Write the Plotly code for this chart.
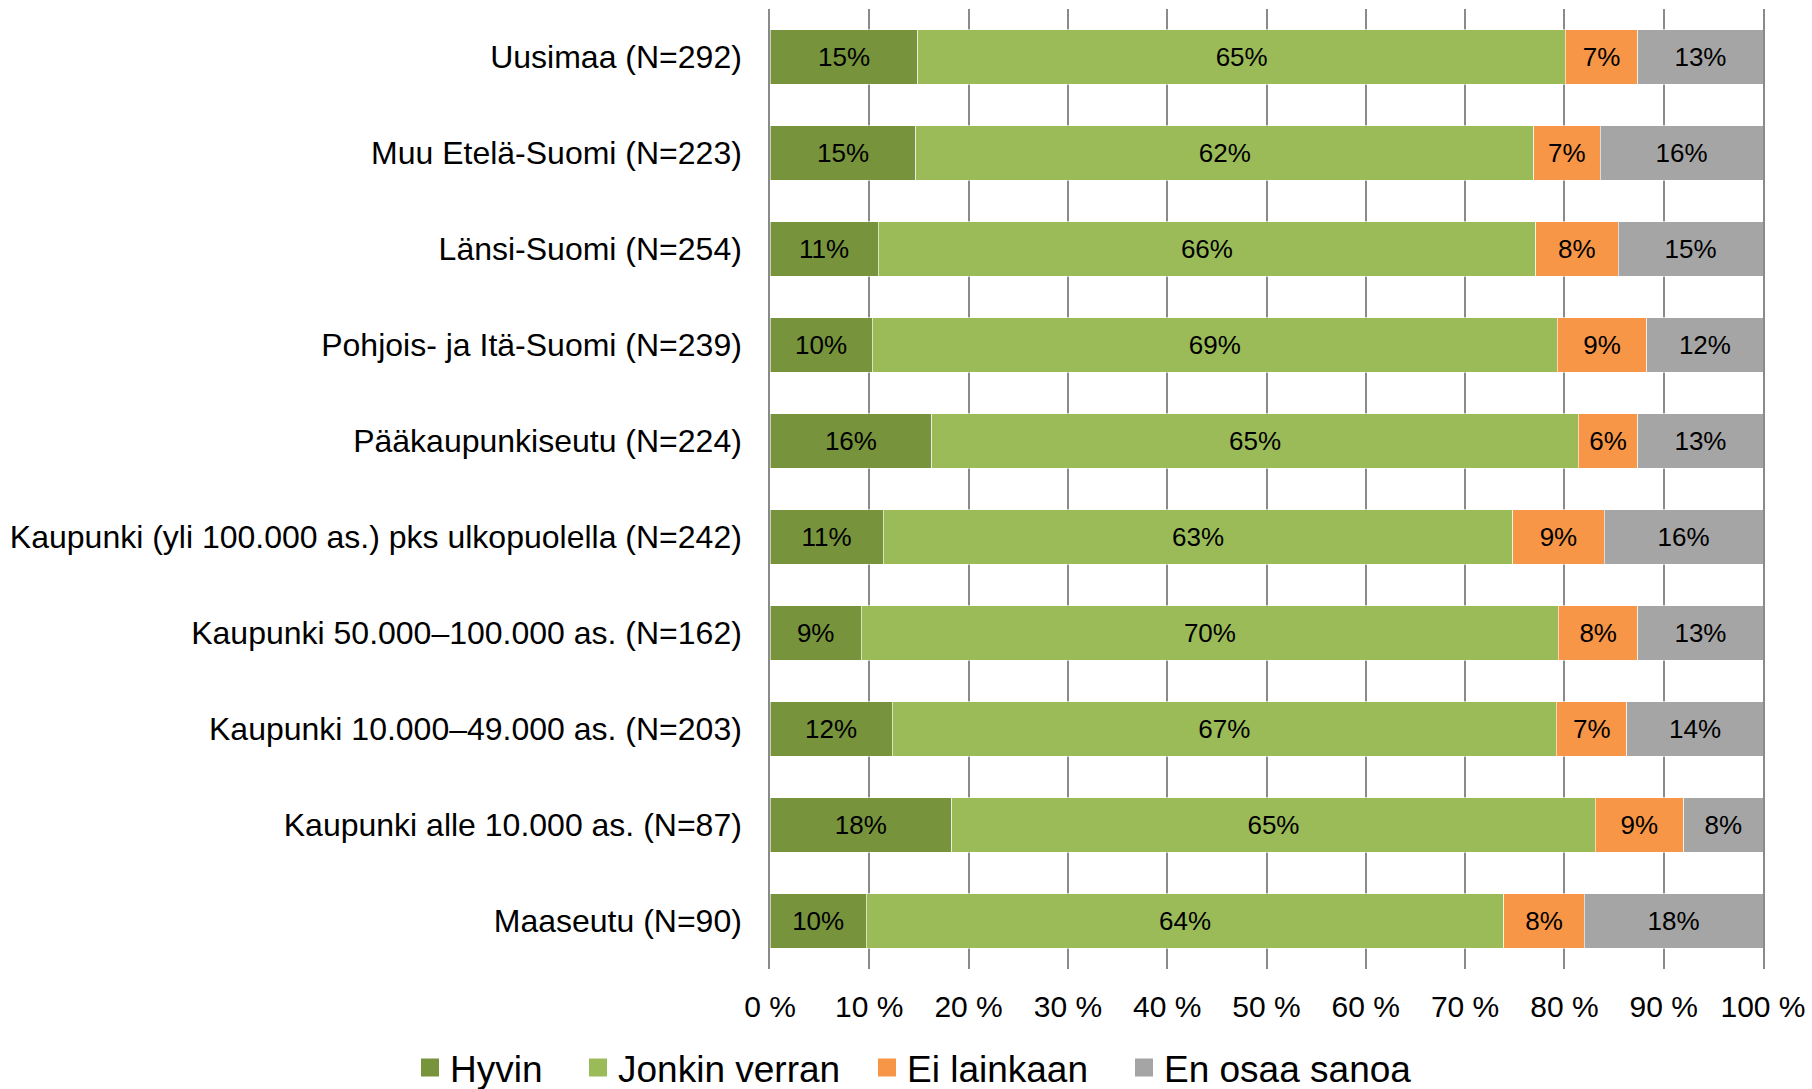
import plotly.graph_objects as go

categories = [
    "Uusimaa (N=292)",
    "Muu Etelä-Suomi (N=223)",
    "Länsi-Suomi (N=254)",
    "Pohjois- ja Itä-Suomi (N=239)",
    "Pääkaupunkiseutu (N=224)",
    "Kaupunki (yli 100.000 as.) pks ulkopuolella (N=242)",
    "Kaupunki 50.000–100.000 as. (N=162)",
    "Kaupunki 10.000–49.000 as. (N=203)",
    "Kaupunki alle 10.000 as. (N=87)",
    "Maaseutu (N=90)",
]

hyvin = [14.9, 14.7, 10.9, 10.3, 16.3, 11.4, 9.2, 12.3, 18.3, 9.7]
jonkin_verran = [65.2, 62.2, 66.2, 69.0, 65.1, 63.4, 70.2, 66.9, 64.8, 64.2]
ei_lainkaan = [7.3, 6.7, 8.3, 9.0, 6.0, 9.2, 8.0, 7.1, 8.9, 8.1]
en_osaa_sanoa = [12.6, 16.4, 14.6, 11.7, 12.6, 16.0, 12.6, 13.7, 8.0, 18.0]

series_names = ["Hyvin", "Jonkin verran", "Ei lainkaan", "En osaa sanoa"]
series_values = [hyvin, jonkin_verran, ei_lainkaan, en_osaa_sanoa]
colors = ["#77933C", "#9BBB59", "#F79646", "#A5A5A5"]

tick_vals = [0, 10, 20, 30, 40, 50, 60, 70, 80, 90, 100]
tick_text = ["0 %", "10 %", "20 %", "30 %", "40 %", "50 %", "60 %", "70 %", "80 %", "90 %", "100 %"]

FONT = "Arial, Liberation Sans, sans-serif"
W, H = 1812, 1089

fig = go.Figure()
for name, vals, col in zip(series_names, series_values, colors):
    fig.add_trace(go.Bar(
        name=name,
        y=categories,
        x=vals,
        orientation="h",
        marker=dict(color=col, line=dict(color="rgba(255,255,255,0.6)", width=1)),
        text=[f"{round(v):d}%" for v in vals],
        textposition="inside",
        insidetextanchor="middle",
        textangle=0,
        insidetextfont=dict(family=FONT, size=26, color="black"),
        hoverinfo="skip",
        showlegend=False,
    ))

# legend entries (one legend per entry to reproduce the spacing)
legend_ids = ["legend", "legend2", "legend3", "legend4"]
legend_left_px = [410, 578, 867, 1124]
for name, col, lid in zip(series_names, colors, legend_ids):
    fig.add_trace(go.Scatter(
        name=name,
        x=[None],
        y=[None],
        mode="markers",
        marker=dict(symbol="square", size=18, color=col, line=dict(color=col, width=2)),
        showlegend=True,
        hoverinfo="skip",
        legend=lid,
    ))

legend_layout = {}
for lid, lx in zip(legend_ids, legend_left_px):
    legend_layout[lid] = dict(
        orientation="h",
        xref="container",
        yref="container",
        x=lx / W,
        xanchor="left",
        y=1 - 1068 / H,
        yanchor="middle",
        font=dict(family=FONT, size=37, color="black"),
        itemwidth=30,
        bgcolor="rgba(0,0,0,0)",
        borderwidth=0,
    )

fig.update_layout(
    barmode="stack",
    bargap=0.43,
    width=W,
    height=H,
    margin=dict(l=770, r=49, t=9, b=120, autoexpand=False),
    paper_bgcolor="white",
    plot_bgcolor="white",
    font=dict(family=FONT, color="black"),
    xaxis=dict(
        range=[0, 100],
        tickvals=tick_vals,
        ticktext=tick_text,
        showgrid=True,
        gridcolor="#8A8A8A",
        gridwidth=1.5,
        zeroline=False,
        showline=False,
        ticks="",
        ticklabelstandoff=17,
        tickfont=dict(family=FONT, size=30, color="black"),
        fixedrange=True,
        automargin=False,
    ),
    yaxis=dict(
        autorange="reversed",
        showgrid=False,
        showline=True,
        mirror=True,
        linecolor="#8A8A8A",
        linewidth=1.5,
        ticks="",
        ticklabelstandoff=20,
        tickfont=dict(family=FONT, size=32, color="black"),
        fixedrange=True,
        automargin=False,
    ),
    **legend_layout,
)

fig.write_html(
    "out.html",
    config={"displayModeBar": False},
    post_script="document.body.style.margin='0';document.body.style.overflow='hidden';",
)
